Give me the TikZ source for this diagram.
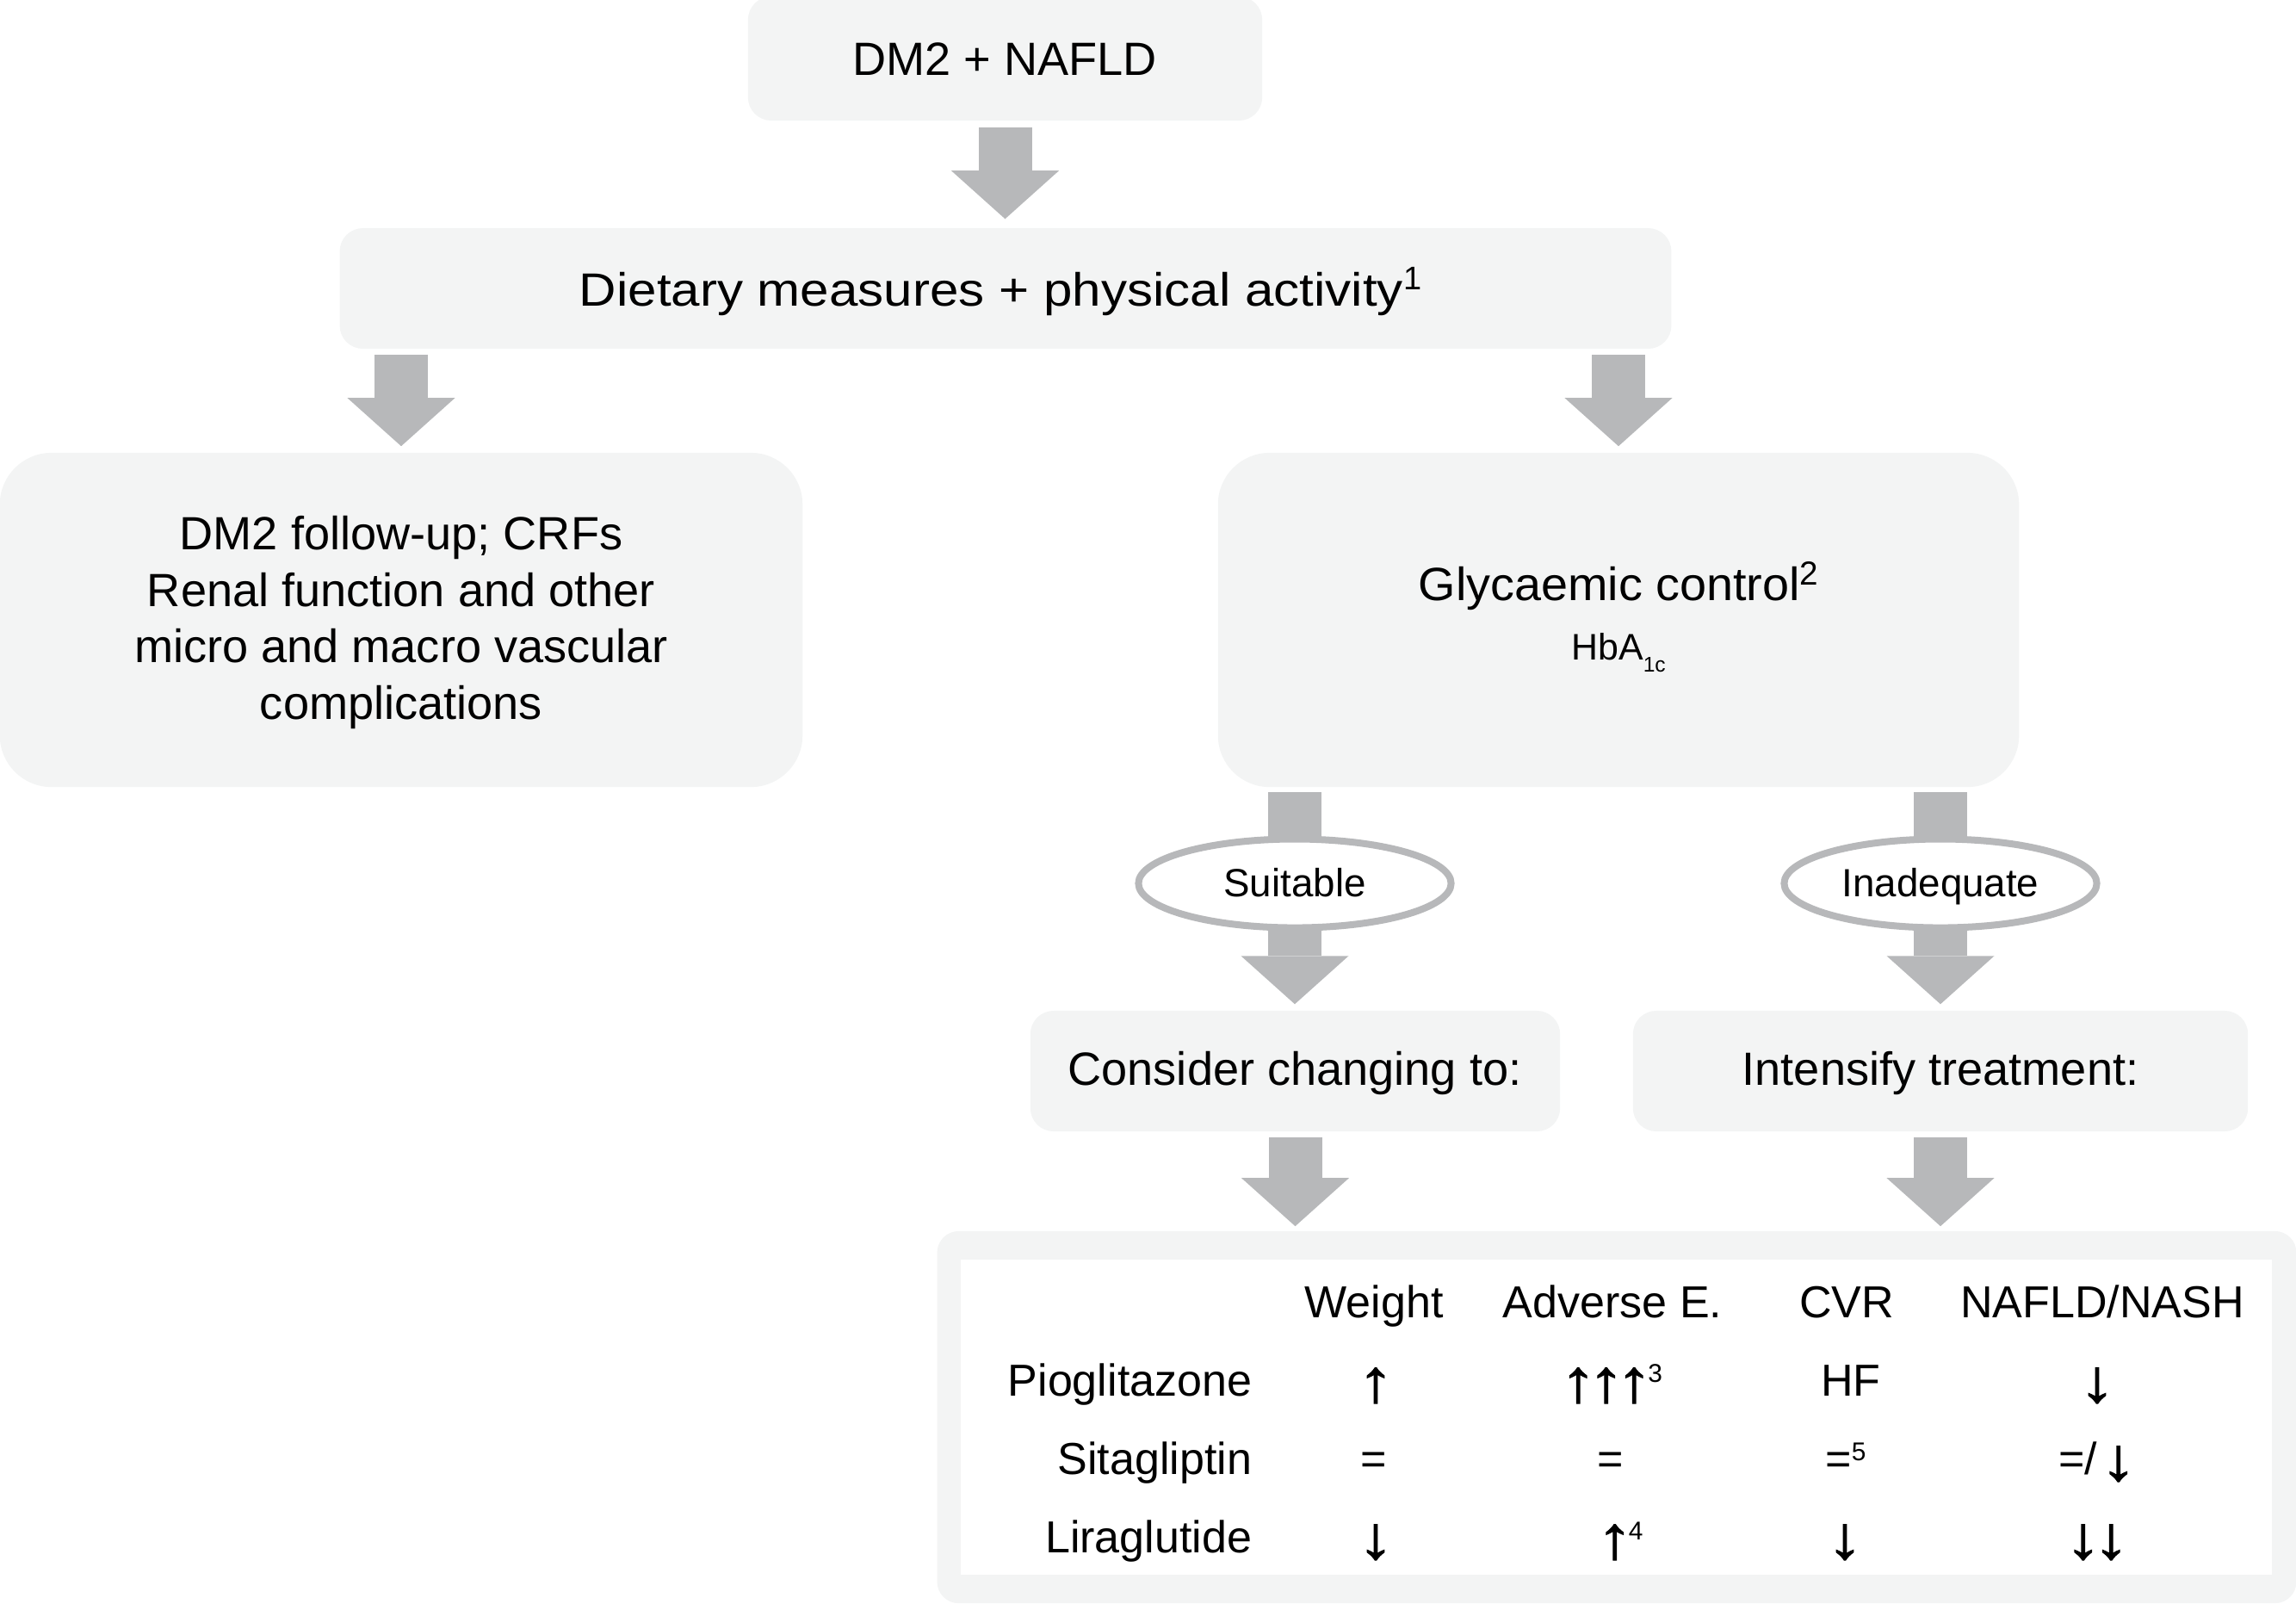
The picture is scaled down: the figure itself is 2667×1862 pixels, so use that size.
\documentclass[tikz,border=0pt]{standalone}
\usepackage{fontspec}
\setmainfont{Liberation Sans}
\usetikzlibrary{arrows.meta,shapes.geometric,backgrounds}
\definecolor{boxfill}{HTML}{F3F4F4}
\definecolor{agray}{HTML}{B7B8BA}
\newcommand{\mysup}[3]{\raisebox{#2}{\fontsize{#1}{#1}\selectfont #3}}
\newcommand{\tarr}[1]{\makebox[0.325cm]{\raisebox{-0.07cm}{\scalebox{1.6}[1.35]{\addfontfeature{FakeBold=1.5}#1}}}}
\begin{document}
\begin{tikzpicture}[x=0.01cm,y=-0.01cm,
  box/.style={fill=boxfill, draw=none, inner sep=0pt, rounded corners=#1},
  box/.default=0.27cm,
  main/.style={font=\fontsize{15.4}{18.6}\selectfont, inner sep=0pt, anchor=base},
  tab/.style={font=\fontsize{14.8}{18}\selectfont, inner sep=0pt, anchor=base},
  lbl/.style={font=\fontsize{13}{15}\selectfont, inner sep=0pt, anchor=base},
  blk/.style={draw=agray, line width=0.62cm, -{Triangle[length=0.56cm,width=1.25cm,line width=0pt]}},
  shaft/.style={draw=agray, line width=0.62cm},
  oval/.style={ellipse, draw=agray, fill=white, line width=0.08cm, inner sep=0pt, minimum width=3.63cm, minimum height=1.03cm},
]
\useasboundingbox (0,0) rectangle (2667,1862);

% boxes
\node[box, minimum width=5.97cm, minimum height=1.44cm] (b1) at (1167.5,68) {};
\node[box, minimum width=15.46cm, minimum height=1.40cm] (b2) at (1168,335) {};
\node[box=0.6cm, minimum width=9.32cm, minimum height=3.88cm] (b3) at (466,720) {};
\node[box=0.6cm, minimum width=9.30cm, minimum height=3.88cm] (b4) at (1880,720) {};
\node[oval] (e1) at (1504,1026) {};
\node[oval] (e2) at (2254,1026) {};
\node[box, minimum width=6.15cm, minimum height=1.40cm] (b5) at (1504.5,1244) {};
\node[box, minimum width=7.14cm, minimum height=1.40cm] (b6) at (2254,1244) {};
\node[box=0.25cm, minimum width=15.78cm, minimum height=4.32cm] (b7) at (1878,1646) {};
\node[fill=white, inner sep=0pt, minimum width=15.23cm, minimum height=3.66cm] (tb) at (1877.5,1646) {};

% texts
\node[main] (t1) at (1167,87) {DM2 + NAFLD};
\node[main] (t2) at (1162,355) {\scalebox{1.11}[1]{Dietary measures + physical activity}\mysup{10.8}{0.19cm}{1}};
\node[main, anchor=center, align=center] (t3) at (466,723) {DM2 follow-up; CRFs\\Renal function and other\\micro and macro vascular\\complications};
\node[main] (t4) at (1880,697) {\scalebox{1.03}[1]{Glycaemic control}\mysup{11}{0.18cm}{2}};
\node[font=\fontsize{12.2}{14}\selectfont, inner sep=0pt, anchor=base] (t5) at (1880,766) {HbA\raisebox{-0.14cm}{\fontsize{7}{7}\selectfont 1c}};
\node[lbl] (t6) at (1504,1041) {Suitable};
\node[lbl] (t7) at (2254,1041) {Inadequate};
\node[main] (t8) at (1504,1260) {Consider changing to:};
\node[main] (t9) at (2254,1260) {Intensify treatment:};

% table
\node[tab] (h1) at (1596,1530) {Weight};
\node[tab] (h2) at (1873,1530) {Adverse E.};
\node[tab] (h3) at (2145,1530) {CVR};
\node[tab] (h4) at (2442,1530) {NAFLD/NASH};

\node[tab, anchor=base east] (r1) at (1455,1621) {Pioglitazone};
\node[tab, anchor=base east] (r2) at (1455,1712) {Sitagliptin};
\node[tab, anchor=base east] (r3) at (1455,1803) {Liraglutide};

\node[tab] (c11) at (1598,1621) {\tarr{↑}};
\node[tab] (c12) at (1874,1621) {\tarr{↑}\tarr{↑}\tarr{↑}\mysup{8.5}{0.16cm}{3}};
\node[tab] (c13) at (2150,1621) {HF};
\node[tab] (c14) at (2436,1621) {\tarr{↓}};

\node[tab] (c21) at (1596,1712) {=};
\node[tab] (c22) at (1871,1712) {=};
\node[tab] (c23) at (2144,1712) {=\mysup{8.5}{0.16cm}{5}};
\node[tab] (c24) at (2434,1712) {=/\,\tarr{↓}};

\node[tab] (c31) at (1598,1803) {\tarr{↓}};
\node[tab] (c32) at (1884,1803) {\tarr{↑}\mysup{8.5}{0.15cm}{4}};
\node[tab] (c33) at (2143,1803) {\tarr{↓}};
\node[tab] (c34) at (2436,1803) {\tarr{↓}\tarr{↓}};

% connectors
\begin{scope}[on background layer]
\draw[blk, shorten <=0.07cm, shorten >=0.10cm] (b1.south) -- (b1.south |- b2.north);
\draw[blk, shorten <=0.06cm, shorten >=0.07cm] (b3.north |- b2.south) -- (b3.north);
\draw[blk, shorten <=0.06cm, shorten >=0.07cm] (b4.north |- b2.south) -- (b4.north);
\draw[shaft, shorten <=0.05cm] (e1 |- b4.south) -- (e1.center);
\draw[shaft, shorten <=0.05cm] (e2 |- b4.south) -- (e2.center);
\draw[blk, shorten >=0.07cm] (e1.center) -- (e1.center |- b5.north);
\draw[blk, shorten >=0.07cm] (e2.center) -- (e2.center |- b6.north);
\draw[blk, shorten <=0.06cm, shorten >=0.05cm] (b5.south) -- (b5.south |- b7.north);
\draw[blk, shorten <=0.06cm, shorten >=0.05cm] (b6.south) -- (b6.south |- b7.north);
\end{scope}
\end{tikzpicture}
\end{document}
